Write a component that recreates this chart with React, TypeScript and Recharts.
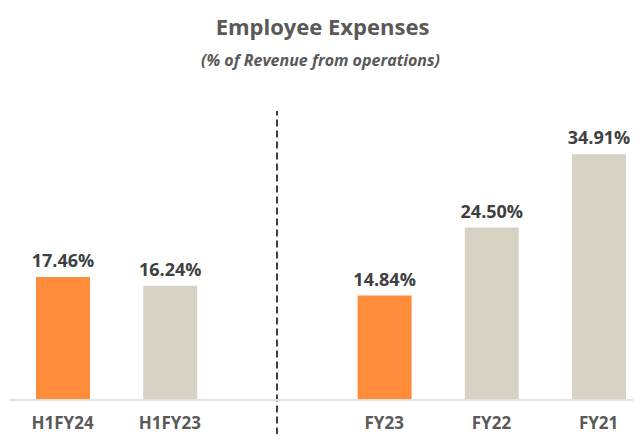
import { BarChart, Bar, XAxis, YAxis, Cell, LabelList, ReferenceLine } from "recharts";

const categories = ["H1FY24", "H1FY23", "", "FY23", "FY22", "FY21"];
const expensePct = [17.46, 16.24, null, 14.84, 24.5, 34.91];
const highlighted = [true, false, false, true, false, false];

const ORANGE = "#FF8C3B";
const BEIGE = "#D8D2C5";
const FONT = "'Open Sans', 'Noto Sans', sans-serif";

const data = categories
  .map((name, i) => ({ idx: i, name, value: expensePct[i], hi: highlighted[i] }))
  .filter((d) => d.value != null);

const tickIdx = data.map((d) => d.idx);

const AxisTick = (props: any) => {
  const { x, y, payload } = props;
  return (
    <text
      x={x}
      y={y + 29}
      textAnchor="middle"
      fill="#595959"
      fontSize={17}
      fontWeight={700}
      fontFamily={FONT}
    >
      {categories[payload.value]}
    </text>
  );
};

export default function App() {
  return (
    <div style={{ position: "relative", width: 633, height: 426, fontFamily: FONT }}>
      <div
        style={{
          position: "absolute",
          top: 2,
          left: 0,
          width: 629,
          textAlign: "center",
          color: "#595959",
          fontWeight: 700,
          fontSize: 22,
          lineHeight: "32px",
        }}
      >
        Employee Expenses
      </div>
      <div
        style={{
          position: "absolute",
          top: 40,
          left: 0,
          width: 625,
          textAlign: "center",
          color: "#595959",
          fontWeight: 700,
          fontStyle: "italic",
          fontSize: 16,
          lineHeight: "24px",
        }}
      >
        (% of Revenue from operations)
      </div>
      <BarChart
        width={633}
        height={426}
        data={data}
        margin={{ top: 103, right: 1, left: 1, bottom: 0 }}
      >
        <YAxis hide domain={[0, 41.05]} />
        <XAxis
          type="number"
          dataKey="idx"
          domain={[-0.5, 5.386]}
          ticks={tickIdx}
          allowDecimals
          tickLine={false}
          tickSize={0}
          tickMargin={0}
          height={34}
          axisLine={{ stroke: "#E3E3E3", strokeWidth: 2 }}
          tick={<AxisTick />}
          interval={0}
        />
        <ReferenceLine
          segment={[
            { x: 2, y: -4.9 },
            { x: 2, y: 41.05 },
          ]}
          stroke="#404040"
          strokeWidth={2}
          strokeDasharray="7 4"
          ifOverflow="visible"
        />
        <Bar dataKey="value" barSize={54} isAnimationActive={false}>
          {data.map((d, i) => (
            <Cell key={i} fill={d.hi ? ORANGE : BEIGE} />
          ))}
          <LabelList
            dataKey="value"
            position="top"
            offset={10}
            formatter={(v: any) => `${Number(v).toFixed(2)}%`}
            fill="#404040"
            fontSize={18}
            fontWeight={700}
            fontFamily={FONT}
          />
        </Bar>
      </BarChart>
    </div>
  );
}
